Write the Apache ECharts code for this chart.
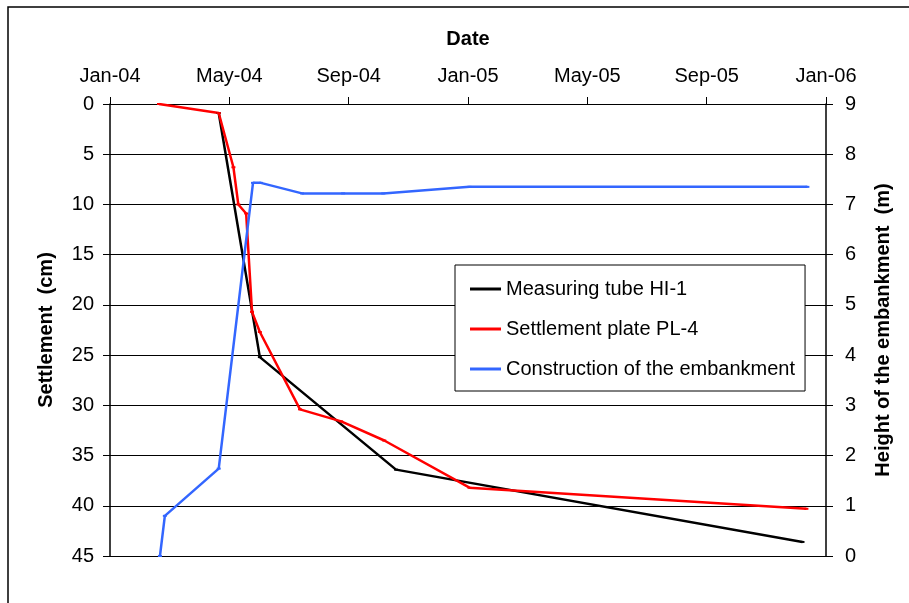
<!DOCTYPE html>
<html><head><meta charset="utf-8">
<script src="https://cdn.jsdelivr.net/npm/echarts@6/dist/echarts.min.js"></script>
<style>html,body{margin:0;padding:0;background:#fff}#c{width:909px;height:603px}</style>
</head><body><div id="c"></div>
<script>
// ---- data ----
const xTickLabels = ['Jan-04','May-04','Sep-04','Jan-05','May-05','Sep-05','Jan-06'];
const leftTicks = [0,5,10,15,20,25,30,35,40,45];
const rightTicks = [0,1,2,3,4,5,6,7,8,9];

const tubeDates = ['2004-04-21','2004-06-02','2004-10-19','2005-12-08'];
const tubeSettlement = [0.9, 25.2, 36.4, 43.6];

const plateDates = ['2004-02-20','2004-04-21','2004-05-06','2004-05-11','2004-05-19','2004-05-25','2004-06-02','2004-07-13','2004-08-24','2004-10-07','2005-01-02','2005-12-12'];
const plateSettlement = [0, 0.9, 6.3, 10.0, 10.9, 20.7, 22.7, 30.4, 31.6, 33.5, 38.2, 40.3];

const embDates = ['2004-02-21','2004-02-26','2004-04-21','2004-05-26','2004-06-03','2004-07-15','2004-08-26','2004-10-06','2005-01-02','2005-12-13'];
const embHeight = [0, 0.8, 1.74, 7.43, 7.43, 7.22, 7.22, 7.22, 7.35, 7.35];

// ---- helpers ----
const T0 = Date.UTC(2004,0,1);
function dayOf(s){const p=s.split('-').map(Number);return (Date.UTC(p[0],p[1]-1,p[2])-T0)/86400000;}
function pairs(d,v){return d.map((s,i)=>[dayOf(s),v[i]]);}
const xMax = dayOf('2006-01-01');
const xStep = xMax/(xTickLabels.length-1);

const FONT = '"Liberation Sans", Arial, sans-serif';
const chart = echarts.init(document.getElementById('c'), null, {renderer:'canvas'});
chart.setOption({
  animation:false,
  backgroundColor:'#fff',
  textStyle:{fontFamily:FONT},
  graphic:[{type:'rect',shape:{x:8,y:7,width:1200,height:1200},style:{fill:'none',stroke:'#000',lineWidth:1.5},silent:true}],
  grid:{left:110,right:83,top:104,bottom:47,containLabel:false},
  legend:{
    left:455, top:265, orient:'vertical',
    backgroundColor:'#fff', borderColor:'#000', borderWidth:1,
    padding:[13,10,11,15], itemGap:18, itemWidth:31, itemHeight:3, icon:'rect',
    textStyle:{fontFamily:FONT,fontSize:20,color:'#000',lineHeight:22},
    data:['Measuring tube HI-1','Settlement plate PL-4','Construction of the embankment']
  },
  xAxis:[{
    type:'value', position:'top', min:0, max:xMax, interval:xStep,
    name:'Date', nameLocation:'middle', nameGap:55,
    nameTextStyle:{fontFamily:FONT,fontSize:20,fontWeight:'bold',color:'#000'},
    axisLine:{show:true,lineStyle:{color:'#000',width:1}},
    axisTick:{show:true,length:7,lineStyle:{color:'#000'}},
    axisLabel:{fontFamily:FONT,fontSize:20,color:'#000',margin:18,
      formatter:v=>xTickLabels[Math.round(v/xStep)]},
    splitLine:{show:false}
  }],
  yAxis:[{
    type:'value', inverse:true, min:0, max:45, interval:5, position:'left',
    name:'Settlement  (cm)', nameLocation:'middle', nameGap:54, nameRotate:90,
    nameTextStyle:{fontFamily:FONT,fontSize:20,fontWeight:'bold',color:'#000'},
    axisLine:{show:true,lineStyle:{color:'#000',width:1.5}},
    axisTick:{show:true,length:7,lineStyle:{color:'#000'}},
    axisLabel:{fontFamily:FONT,fontSize:20,color:'#000',margin:16,
      formatter:v=>leftTicks.includes(v)?String(v):''},
    splitLine:{show:true,lineStyle:{color:'#000',width:1}}
  },{
    type:'value', min:0, max:9, interval:1, position:'right',
    name:'Height of the embankment  (m)', nameLocation:'middle', nameGap:47, nameRotate:90,
    nameTextStyle:{fontFamily:FONT,fontSize:20,fontWeight:'bold',color:'#000'},
    axisLine:{show:true,lineStyle:{color:'#000',width:1.5}},
    axisTick:{show:true,length:7,lineStyle:{color:'#000'}},
    axisLabel:{fontFamily:FONT,fontSize:20,color:'#000',margin:19,
      formatter:v=>rightTicks.includes(v)?String(v):''},
    splitLine:{show:false}
  }],
  series:[{
    name:'Measuring tube HI-1', type:'line', xAxisIndex:0, yAxisIndex:0,
    data:pairs(tubeDates,tubeSettlement),
    symbol:'rect', symbolSize:[4,2], lineStyle:{color:'#000',width:2.5}, itemStyle:{color:'#000'}
  },{
    name:'Settlement plate PL-4', type:'line', xAxisIndex:0, yAxisIndex:0,
    data:pairs(plateDates,plateSettlement),
    symbol:'rect', symbolSize:[4,2], lineStyle:{color:'#ff0000',width:2.5}, itemStyle:{color:'#ff0000'}
  },{
    name:'Construction of the embankment', type:'line', xAxisIndex:0, yAxisIndex:1,
    data:pairs(embDates,embHeight),
    symbol:'rect', symbolSize:[4,2], lineStyle:{color:'#3366ff',width:2.5}, itemStyle:{color:'#3366ff'}
  }]
});
</script>
</body></html>
